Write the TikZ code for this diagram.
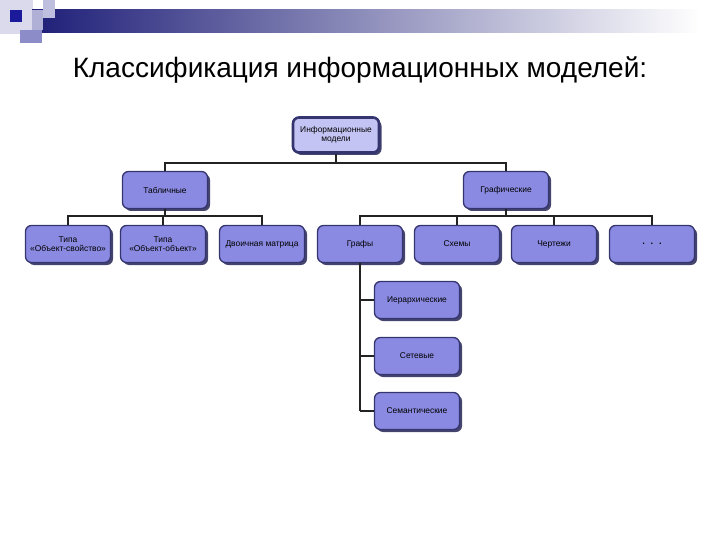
\documentclass[tikz,border=0pt]{standalone}
\usepackage{fontspec}
\setmainfont{Liberation Sans}
\definecolor{boxfill}{HTML}{8A8AE2}
\definecolor{topfill}{HTML}{C4C4F4}
\definecolor{boxline}{HTML}{34346E}
\definecolor{shadowc}{HTML}{44446E}
\definecolor{navy}{HTML}{1E1E78}
\definecolor{wire}{HTML}{222222}
\tikzset{
  box/.style={draw=boxline, line width=1.3pt, fill=boxfill, rounded corners=6pt,
    minimum width=85pt, minimum height=37pt, align=center, inner sep=1pt,
    font=\fontsize{8.4}{9.5}\selectfont, text=black,
    preaction={fill=shadowc, transform canvas={shift={(2.5pt,-2.5pt)}}}},
  topbox/.style={box, fill=topfill, line width=2.6pt},
  wire/.style={draw=wire, line width=2pt}
}
\begin{document}
\begin{tikzpicture}[x=1pt,y=-1pt]
\useasboundingbox (0,0) rectangle (720,540);
% header decoration
\fill[color={rgb,255:red,218;green,218;blue,236}] (0,0) rectangle (33,34);
\shade[left color=navy, right color=white] (32,10) rectangle (700,33);
\fill[color={rgb,255:red,190;green,190;blue,222}] (43,0) rectangle (55,18);
\fill[color={rgb,255:red,176;green,176;blue,214}] (32,10) rectangle (43,30);
\fill[color={rgb,255:red,26;green,26;blue,154}] (10,10) rectangle (22,22);
\fill[color={rgb,255:red,140;green,140;blue,200}] (20,30) rectangle (42,43);
% title
\node[font=\fontsize{28}{32}\selectfont] (title) at (360,70) {Классификация информационных моделей:};
% nodes
\node[topbox, minimum width=86pt, minimum height=35pt] (top) at (336,135) {Информационные\\модели};
\node[box] (tab) at (165,190) {Табличные};
\node[box] (graf) at (506,190) {Графические};
\node[box] (b1) at (68,244) {Типа\\«Объект-свойство»};
\node[box] (b2) at (163,244) {Типа\\«Объект-объект»};
\node[box] (b3) at (262,244) {Двоичная матрица};
\node[box] (b4) at (360,244) {Графы};
\node[box] (b5) at (457,244) {Схемы};
\node[box] (b6) at (554,244) {Чертежи};
\node[box, font=\fontsize{13}{14}\selectfont] (b7) at (652,244) {. . .};
\node[box] (s1) at (417,300) {Иерархические};
\node[box] (s2) at (417,356) {Сетевые};
\node[box] (s3) at (417,411) {Семантические};
% connectors
\coordinate (j0) at (336,163);
\draw[wire] (top.south) -- (j0);
\draw[wire] (j0) -| (tab.north);
\draw[wire] (j0) -| (graf.north);
\coordinate (j1) at (165,216);
\draw[wire] (tab.south) -- (j1);
\draw[wire] (j1) -| (b1.north);
\draw[wire] (j1) -| (b2.north);
\draw[wire] (j1) -| (b3.north);
\coordinate (j2) at (506,216);
\draw[wire] (graf.south) -- (j2);
\draw[wire] (j2) -| (b4.north);
\draw[wire] (j2) -| (b5.north);
\draw[wire] (j2) -| (b6.north);
\draw[wire] (j2) -| (b7.north);
\coordinate (g1) at (360,300);
\coordinate (g2) at (360,356);
\coordinate (g3) at (360,411);
\draw[wire] (b4.south) -- (g3);
\draw[wire] (g1) -- (s1.west);
\draw[wire] (g2) -- (s2.west);
\draw[wire] (g3) -- (s3.west);
\end{tikzpicture}
\end{document}
